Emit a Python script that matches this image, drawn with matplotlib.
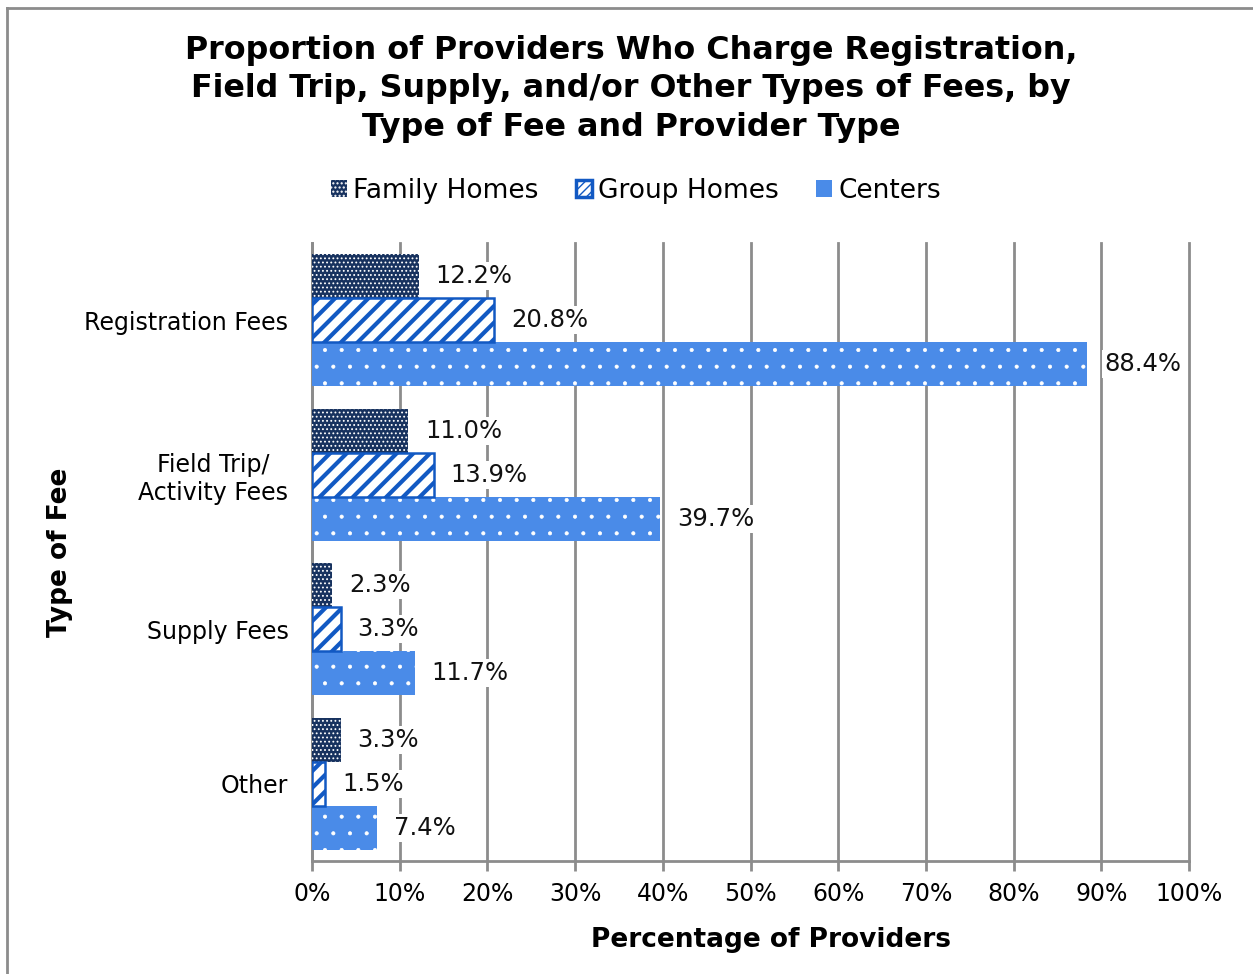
import numpy as np
import matplotlib
matplotlib.use("Agg")
import matplotlib.pyplot as plt
from matplotlib.patches import Patch
from matplotlib.lines import Line2D

categories = ["Registration Fees", "Field Trip/\nActivity Fees", "Supply Fees", "Other"]
series_names = ["Family Homes", "Group Homes", "Centers"]
family = [12.2, 11.0, 2.3, 3.3]
group = [20.8, 13.9, 3.3, 1.5]
centers = [88.4, 39.7, 11.7, 7.4]
xticks = list(range(0, 101, 10))

navy = "#17325F"
blue = "#1259C3"
light = "#4A8BE8"
grid_gray = "#8C8C8C"

plt.rcParams['font.family'] = ['DejaVu Sans']

fig = plt.figure(figsize=(12.53, 9.74), dpi=100)
ax = fig.add_axes([312/1253, 1-861/974, (1189-312)/1253, (861-243)/974])

y = np.arange(len(categories))
h = 0.285

# family homes: navy with dense white dots
with plt.rc_context({'hatch.linewidth': 0.8}):
    ax.barh(y - h, family, height=h, color=navy, edgecolor="white",
            linewidth=0, hatch="....", zorder=3)
# group homes: white with blue diagonals and blue outline
with plt.rc_context({'hatch.linewidth': 3.0}):
    ax.barh(y, group, height=h, color="white", edgecolor=blue,
            linewidth=0, hatch="//", zorder=3)
ax.barh(y, group, height=h, fill=False, edgecolor=blue, linewidth=1.8, zorder=4)
# centers: light blue with sparse white dots
with plt.rc_context({'hatch.linewidth': 0.5}):
    ax.barh(y + h, centers, height=h, color=light, edgecolor="white",
            linewidth=0, hatch=".", zorder=3)

for vals, off in [(family, -h), (group, 0), (centers, h)]:
    for yi, v in zip(y, vals):
        ax.text(v + 1.9, yi + off, f"{v:.1f}%", va="center", ha="left",
                fontsize=17.5, color="#111111", zorder=5,
                bbox=dict(facecolor="white", edgecolor="none", pad=1.5))

ax.set_ylim(len(categories) - 0.5, -0.5)
ax.set_xlim(0, 100)
ax.set_xticks(xticks)
ax.set_xticklabels([f"{t}%" for t in xticks], fontsize=17)
ax.set_yticks(y)
ax.set_yticklabels(categories, fontsize=17, linespacing=1.2,
                   multialignment="center")
ax.tick_params(axis="y", length=0, pad=17)
ax.tick_params(axis="x", length=7, width=2, color=grid_gray, pad=8)
ax.grid(axis="x", color=grid_gray, linewidth=2, zorder=0)
for gl in ax.get_xgridlines():
    gl.set_clip_on(False)
ax.set_axisbelow(True)
for s in ["top", "right"]:
    ax.spines[s].set_visible(False)
for s in ["left", "bottom"]:
    ax.spines[s].set_color(grid_gray)
    ax.spines[s].set_linewidth(2)

fig.text(631/1253, 1-89/974,
         "Proportion of Providers Who Charge Registration,\n"
         "Field Trip, Supply, and/or Other Types of Fees, by\n"
         "Type of Fee and Provider Type",
         ha="center", va="center", fontsize=22.9, fontweight="bold",
         linespacing=1.32)
fig.text(771/1253, 1-940/974, "Percentage of Providers", ha="center",
         va="center", fontsize=19, fontweight="bold")
fig.text(60/1253, 1-552/974, "Type of Fee", ha="center", va="center",
         rotation=90, fontsize=19, fontweight="bold")

with plt.rc_context({'hatch.linewidth': 0.8}):
    hf = Patch(facecolor=navy, edgecolor="white", linewidth=0, hatch="....")
with plt.rc_context({'hatch.linewidth': 2.0}):
    hg = Patch(facecolor="white", edgecolor=blue, linewidth=2.5, hatch="////")
hc = Patch(facecolor=light, edgecolor=light, linewidth=0)
fig.legend([hf, hg, hc], series_names, loc="center",
           bbox_to_anchor=(636/1253, 1-191/974), ncol=3, frameon=False,
           fontsize=19, handlelength=0.6, handleheight=0.6,
           handletextpad=0.25, columnspacing=1.4)

# outer frame
fig.add_artist(Line2D([7/1253, 7/1253], [0, 1-8/974], color=grid_gray,
                      linewidth=2, transform=fig.transFigure))
fig.add_artist(Line2D([7/1253, 1], [1-8/974, 1-8/974], color=grid_gray,
                      linewidth=2, transform=fig.transFigure))

fig.savefig("out.png", dpi=100)
